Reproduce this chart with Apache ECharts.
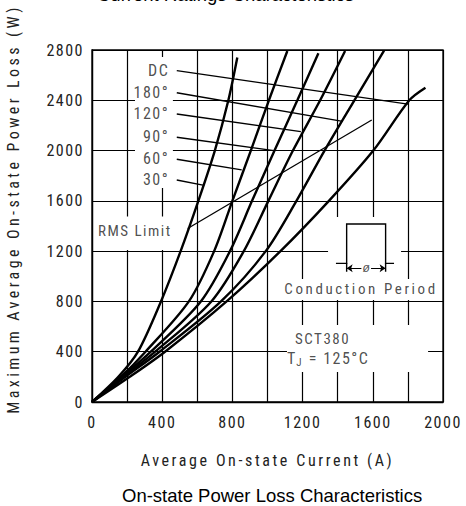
<!DOCTYPE html>
<html>
<head>
<meta charset="utf-8">
<title>On-state Power Loss Characteristics</title>
<script src="https://cdn.jsdelivr.net/npm/echarts@6/dist/echarts.min.js"></script>
<style>
html, body { margin: 0; padding: 0; background: #fff; }
#chart { width: 466px; height: 506px; }
/* the datasheet prints its labels in a narrow face with wide tracking */
#chart text[style*="Spc1"] { letter-spacing: 1.5px; }
#chart text[style*="Spc2"] { letter-spacing: 2.6px; }
#chart text[style*="Spc3"] { letter-spacing: 3.4px; }
</style>
</head>
<body>
<div id="chart"></div>
<script>
/**
 * data
 */
var xTickLabels = [0, 400, 800, 1200, 1600, 2000];
var yTickLabels = [0, 400, 800, 1200, 1600, 2000, 2400, 2800];

var curveNames = ['DC', '180°', '120°', '90°', '60°', '30°'];
// [current (A), power (W)]
var curveDC  = [[0,0],[215,200],[416,400],[767,800],[1074,1200],[1350,1600],[1603,2000],[1808,2400],[1900,2500]];
var curve180 = [[0,0],[190,200],[385,400],[735,800],[990,1200],[1165,1600],[1325,2000],[1495,2400],[1664,2795]];
var curve120 = [[0,0],[180,200],[360,400],[680,800],[865,1200],[1005,1600],[1145,2000],[1300,2400],[1442,2792]];
var curve90  = [[0,0],[172,200],[335,400],[620,800],[786,1200],[912,1600],[1040,2000],[1170,2400],[1290,2774]];
var curve60  = [[0,0],[165,200],[305,400],[552,800],[696,1200],[800,1600],[905,2000],[1008,2400],[1113,2792]];
var curve30  = [[0,0],[150,200],[262,400],[393,800],[505,1200],[606,1600],[700,2000],[777,2400],[828,2740]];

// label anchors (right edge) and leader lines
var labelPos    = [[440,2636],[440,2463],[440,2291],[440,2110],[440,1935],[440,1766]];
var leaderStart = [[483,2636],[483,2460],[483,2291],[483,2106],[483,1931],[483,1766]];
var leaderEnd   = [[1800,2370],[1420,2235],[1190,2150],[1037,2000],[853,1846],[632,1726]];

var rmsLimit = [[545,1380],[1594,2243]];

// conduction period sketch
var pulseShape = [[1390,1103],[1451,1103],[1451,1416],[1673,1416],[1673,1103],[1721,1103]];
var pulseTicks = [[[1451,1103],[1451,1037]], [[1673,1103],[1673,1037]]];
var pulseArrows = [[[1535,1064],[1451,1064]], [[1590,1064],[1673,1064]]];

// white patches behind the annotations
var whiteBoxes = [
    [[245,1702],[461,2744]],
    [[17,1209],[490,1475]],
    [[1345,811],[1761,1472]],
    [[1111,811],[1954,978]],
    [[1111,239],[1915,612]]
];

var notes = [
    {name: 'RMS Limit', value: [34,1363], align: 'left'},
    {name: 'Conduction Period', value: [1533,899], align: 'center'},
    {name: 'SCT380', value: [1157,503], align: 'left'},
    {name: 'Tj', value: [1111,350], align: 'left'}
];

var cond  = "'Roboto Condensed', sans-serif";
var cond1 = "'Roboto Condensed', 'Spc1', sans-serif";
var cond2 = "'Roboto Condensed', 'Spc2', sans-serif";
var cond3 = "'Roboto Condensed', 'Spc3', sans-serif";
var plain = "'Liberation Sans', Arial, sans-serif";

var chart = echarts.init(document.getElementById('chart'), null, {renderer: 'svg'});

function curveSeries(name, data){
    return {
        name: name,
        type: 'line',
        data: data,
        smooth: 0.3,
        showSymbol: false,
        symbol: 'none',
        z: 5,
        lineStyle: {color: '#000', width: 2.4}
    };
}

function segments(list){
    return list.map(function(c){ return {coords: c}; });
}

var series = [
    // white patches + angle labels
    {
        type: 'scatter',
        symbolSize: 0,
        z: 3,
        data: labelPos.map(function(p, i){ return {name: curveNames[i], value: p}; }),
        label: {
            show: true,
            position: 'left',
            distance: 0,
            formatter: '{b}',
            color: '#222',
            fontFamily: cond1,
            fontSize: 16
        },
        markArea: {
            silent: true,
            itemStyle: {color: '#fff'},
            data: whiteBoxes.map(function(b){ return [{coord: b[0]}, {coord: b[1]}]; })
        }
    },
    {
        type: 'scatter',
        symbolSize: 0,
        z: 6,
        data: notes.map(function(n){
            var item = {name: n.name, value: n.value, label: {align: n.align}};
            if (n.name == 'Conduction Period') item.label.fontFamily = cond2;
            return item;
        }),
        label: {
            show: true,
            position: 'inside',
            color: '#222',
            fontFamily: cond1,
            fontSize: 15,
            formatter: function(p){
                if (p.name == 'Tj') return '{t|T}{s|J}{r| = 125°C}';
                return p.name;
            },
            rich: {
                t: {fontFamily: cond, fontSize: 16, color: '#222'},
                s: {fontFamily: cond, fontSize: 11, color: '#222', padding: [9, 2, 0, 1]},
                r: {fontFamily: cond1, fontSize: 16, color: '#222'}
            }
        }
    },
    {
        type: 'scatter',
        symbolSize: 0,
        z: 6,
        data: [{name: 'ø', value: [1562,1064]}],
        label: {show: true, position: 'inside', formatter: '{b}', color: '#222', fontFamily: plain, fontSize: 12, fontStyle: 'italic'}
    },
    {
        type: 'lines',
        coordinateSystem: 'cartesian2d',
        z: 4,
        silent: true,
        lineStyle: {color: '#000', width: 1.3, opacity: 1},
        data: segments(leaderStart.map(function(s, i){ return [s, leaderEnd[i]]; })).concat(segments([rmsLimit]))
    },
    {
        type: 'lines',
        coordinateSystem: 'cartesian2d',
        polyline: true,
        z: 6,
        silent: true,
        lineStyle: {color: '#000', width: 1.4, opacity: 1},
        data: segments([pulseShape]).concat(segments(pulseTicks))
    },
    {
        type: 'lines',
        coordinateSystem: 'cartesian2d',
        z: 6,
        silent: true,
        symbol: ['none', 'arrow'],
        symbolSize: 6,
        lineStyle: {color: '#000', width: 1.2, opacity: 1},
        data: segments(pulseArrows)
    },
    curveSeries('DC', curveDC),
    curveSeries('180°', curve180),
    curveSeries('120°', curve120),
    curveSeries('90°', curve90),
    curveSeries('60°', curve60),
    curveSeries('30°', curve30)
];

var option = {
    animation: false,
    backgroundColor: '#fff',
    title: [
        {
            text: 'Current Ratings Characteristics',
            left: 97,
            top: -15,
            padding: 0,
            textStyle: {fontFamily: plain, fontSize: 18.5, fontWeight: 'normal', color: '#000'}
        },
        {
            text: 'On-state Power Loss Characteristics',
            left: 122,
            top: 486,
            padding: 0,
            textStyle: {fontFamily: plain, fontSize: 18.5, fontWeight: 'normal', color: '#000'}
        }
    ],
    grid: {
        left: 92, right: 23, top: 50, bottom: 104,
        outerBoundsMode: 'none',
        show: true,
        borderColor: '#000',
        borderWidth: 1.3,
        backgroundColor: '#fff'
    },
    xAxis: {
        type: 'value',
        min: 0,
        max: 2000,
        interval: 200,
        name: 'Average On-state Current (A)',
        nameLocation: 'middle',
        nameGap: 50,
        nameTextStyle: {fontFamily: cond2, fontSize: 16, color: '#222'},
        axisLine: {show: true, lineStyle: {color: '#000', width: 1.3}},
        axisTick: {show: false},
        splitLine: {show: true, lineStyle: {color: '#000', width: 1.2}},
        axisLabel: {
            margin: 12,
            fontFamily: cond1,
            fontSize: 16,
            color: '#222',
            formatter: function(v){ return xTickLabels.indexOf(v) > -1 ? String(v) : ''; }
        }
    },
    yAxis: {
        type: 'value',
        min: 0,
        max: 2800,
        interval: 400,
        name: 'Maximum Average On-state Power Loss (W)',
        nameLocation: 'middle',
        nameGap: 71,
        nameTextStyle: {fontFamily: cond3, fontSize: 16, color: '#222', padding: [0, 0, 0, 34]},
        axisLine: {show: true, lineStyle: {color: '#000', width: 1.3}},
        axisTick: {show: false},
        splitLine: {show: true, lineStyle: {color: '#000', width: 1.2}},
        axisLabel: {
            margin: 8,
            fontFamily: cond1,
            fontSize: 16,
            color: '#222',
            formatter: function(v){ return yTickLabels.indexOf(v) > -1 ? String(v) : ''; }
        }
    },
    series: series
};

chart.setOption(option);
</script>
</body>
</html>
